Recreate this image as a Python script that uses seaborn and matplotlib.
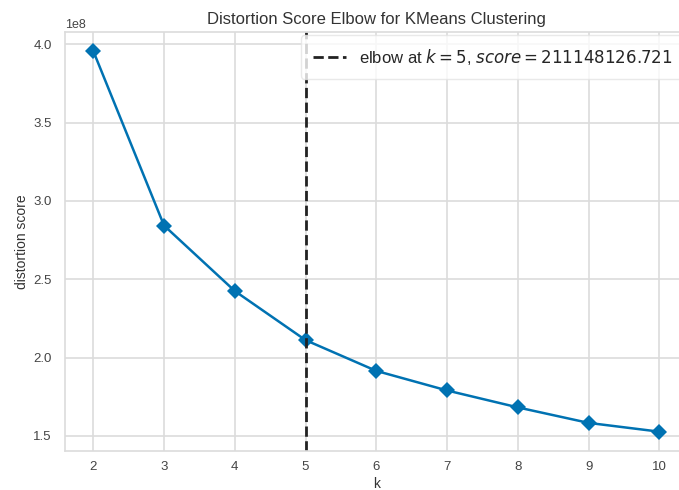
import matplotlib
matplotlib.use("Agg")
import matplotlib.pyplot as plt
import seaborn as sns
import pandas as pd

# Distortion score for each number of clusters
k_values = [2, 3, 4, 5, 6, 7, 8, 9, 10]
distortion = [3.957e8, 2.843e8, 2.425e8, 211148126.721, 1.915e8,
              1.790e8, 1.682e8, 1.583e8, 1.527e8]
elbow_k = 5
elbow_score = 211148126.721

sns.set_theme(style="whitegrid")
plt.rcParams["font.family"] = ["Liberation Sans", "DejaVu Sans"]
plt.rcParams.update({
    "axes.edgecolor": "#dcdcdc",
    "grid.color": "#dcdcdc",
    "grid.linewidth": 1.2,
    "axes.linewidth": 1.2,
    "xtick.labelsize": 9.5,
    "ytick.labelsize": 9.5,
    "xtick.major.pad": 1.5,
    "xtick.color": "#444444",
    "ytick.color": "#444444",
    "axes.labelcolor": "#333333",
})

df = pd.DataFrame({"k": k_values, "distortion score": distortion})

fig = plt.figure(figsize=(6.79, 4.90), dpi=100)
ax = fig.add_axes([0.0957, 0.0802, 0.917, 0.8545])

sns.lineplot(data=df, x="k", y="distortion score", ax=ax, color="#0072B2",
             marker="D", markersize=8, linewidth=1.8, markeredgewidth=0)

ax.axvline(elbow_k, color="#222222", linestyle="--", linewidth=2,
           label="elbow at $k={}$, $score={:0.3f}$".format(elbow_k, elbow_score))

ax.set_title("Distortion Score Elbow for KMeans Clustering", fontsize=12, color="#333333")
ax.set_xlabel("k", fontsize=10, labelpad=3)
ax.set_ylabel("distortion score", fontsize=10, labelpad=3)
ax.set_xticks(k_values)
ax.margins(x=0.05, y=0.05)
ax.yaxis.get_offset_text().set_fontsize(9)

leg = ax.legend(loc="upper right", frameon=True, fontsize=12,
                borderaxespad=0.2, borderpad=0.7)
leg.get_frame().set_edgecolor("#e4e4e4")

for s in ax.spines.values():
    s.set_visible(True)

fig.savefig("out.png", dpi=100)
